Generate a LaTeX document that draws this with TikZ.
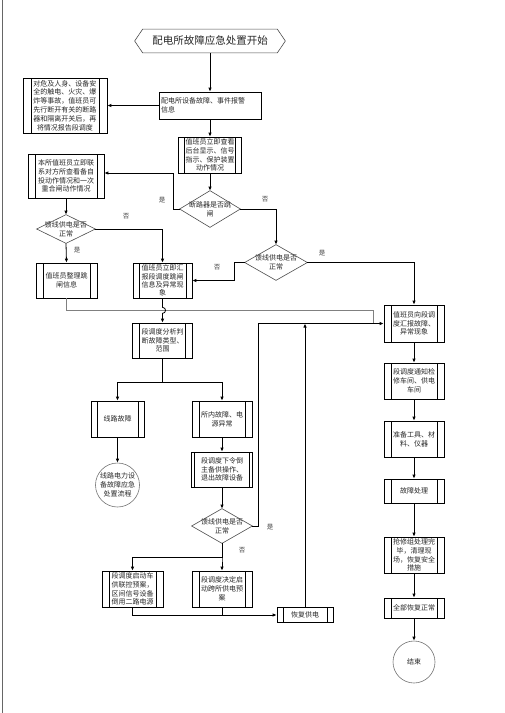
\documentclass[tikz,border=0pt]{standalone}
\usepackage{fontspec}
\newfontfamily\cjk{Noto Sans CJK SC}
\usetikzlibrary{arrows.meta,calc}
\tikzset{
  base/.style={font=\cjk\fontsize{7}{8.8}\selectfont, align=center, inner sep=0pt, line width=0.7pt, text=black!85},
  pp/.style={base, draw, rectangle,
    path picture={\draw[line width=0.7pt]
      ([xshift=#1]path picture bounding box.north west) -- ([xshift=#1]path picture bounding box.south west)
      ([xshift=-#1]path picture bounding box.north east) -- ([xshift=-#1]path picture bounding box.south east);}},
  pp/.default=7pt,
  plainbox/.style={base, draw, rectangle},
  diabox/.style={base, rectangle, draw=none},
  circ/.style={base, draw=black!55, line width=0.6pt, circle},
  conn/.style={line width=0.8pt, -{Latex[length=4pt,width=3.5pt]}},
  line/.style={line width=0.8pt},
  lbl/.style={font=\cjk\fontsize{6.5}{7}\selectfont, text=black!75, inner sep=0pt}
}
\begin{document}
\begin{tikzpicture}[x=1pt,y=-1pt]
\useasboundingbox (0,0) rectangle (504,713);
\draw[line width=0.5pt, black!60] (2.5,0) -- (2.5,713);

% title
\node[base, font=\cjk\fontsize{10.5}{12}\selectfont, minimum width=150pt, minimum height=23pt] (title) at (210,41) {配电所故障应急处置开始};
\draw[line width=0.6pt, black!70] ([xshift=8pt]title.north west) -- ([xshift=-8pt]title.north east) -- (title.east) -- ([xshift=-8pt]title.south east) -- ([xshift=8pt]title.south west) -- (title.west) -- cycle;

% nodes
\node[plainbox, minimum width=102pt, minimum height=27pt, text width=98pt, align=left] (b1) at (210,105.5) {配电所设备故障、事件报警\\信息};
\node[pp=8pt, minimum width=84pt, minimum height=55pt] (a1) at (65,105.5) {对危及人身、设备安\\全的触电、火灾、爆\\炸等事故，值班员可\\先行断开有关的断路\\器和隔离开关后，再\\将情况报告段调度};
\node[pp=6pt, minimum width=63pt, minimum height=36pt] (b2) at (210,155) {值班员立即查看\\后台显示、信号\\指示、保护装置\\动作情况};
\node[pp=7pt, minimum width=76pt, minimum height=44pt] (b3) at (66,176) {本所值班员立即联\\系对方所查看备自\\投动作情况和一次\\重合闸动作情况};
\node[diabox, minimum width=60pt, minimum height=36pt] (d1) at (210,209) {断路器是否跳\\闸};
\node[diabox, minimum width=58pt, minimum height=28pt] (d2) at (66,229) {馈线供电是否\\正常};
\node[diabox, minimum width=62pt, minimum height=35pt] (d3) at (276,262.5) {馈线供电是否\\正常};
\node[pp=7pt, minimum width=61pt, minimum height=35pt] (b4) at (66.5,280.5) {值班员整理跳\\闸信息};
\node[pp=6pt, minimum width=59pt, minimum height=35pt, font=\cjk\fontsize{7}{8.4}\selectfont] (b5) at (162.5,280.5) {值班员立即汇\\报段调度跳闸\\信息及异常现\\象};
\node[pp=7pt, minimum width=60pt, minimum height=35pt] (b6) at (162.5,340.5) {段调度分析判\\断故障类型、\\范围};
\node[pp=6pt, minimum width=53pt, minimum height=36pt] (b7) at (117.5,419) {线路故障};
\node[pp=7pt, minimum width=60pt, minimum height=36pt] (b8) at (222,419) {所内故障、电\\源异常};
\node[circ, minimum size=44pt] (c1) at (117.5,485) {线路电力设\\备故障应急\\处置流程};
\node[pp=3pt, minimum width=61pt, minimum height=35pt] (b9) at (222,469.5) {段调度下令倒\\主备供操作、\\退出故障设备};
\node[diabox, minimum width=60pt, minimum height=34pt] (d4) at (222,526) {馈线供电是否\\正常};
\node[pp=7pt, minimum width=61pt, minimum height=36pt] (b10) at (132.5,589) {段调度启动车\\供联控预案，\\区间信号设备\\倒用二路电源};
\node[pp=7pt, minimum width=60pt, minimum height=36pt] (b11) at (222,589) {段调度决定启\\动跨所供电预\\案};
\node[pp=6pt, minimum width=56pt, minimum height=15pt] (b12) at (305,615) {恢复供电};

\node[pp=7pt, minimum width=60pt, minimum height=37pt] (r1) at (414,323.5) {值班员向段调\\度汇报故障、\\异常现象};
\node[pp=7pt, minimum width=60pt, minimum height=36pt] (r2) at (414,381) {段调度通知检\\修车间、供电\\车间};
\node[pp=7pt, minimum width=60pt, minimum height=36pt] (r3) at (414,439) {准备工具、材\\料、仪器};
\node[pp=7pt, minimum width=60pt, minimum height=24pt] (r4) at (414,491) {故障处理};
\node[pp=7pt, minimum width=60pt, minimum height=36pt] (r5) at (414,555) {抢修组处理完\\毕，清理现\\场，恢复安全\\措施};
\node[pp=7pt, minimum width=60pt, minimum height=20pt] (r6) at (414,608) {全部恢复正常};
\node[circ, minimum size=42pt] (e) at (414,662) {结束};

% diamonds outlines
\foreach \d in {d1,d2,d3,d4}{
  \draw[line width=0.6pt, black!70] (\d.north) -- (\d.east) -- (\d.south) -- (\d.west) -- cycle;
}

% helper coordinates
\coordinate (y173) at (0,173);
\coordinate (j1) at (173,173);
\coordinate (g1) at (373,310);

% connectors
\draw[conn] (title.south) -- (b1.north);
\draw[conn] (b1.west) -- (a1.east);
\draw[conn] (b1.south) -- (b2.north);
\draw[conn] (b2.south) -- (d1.north);
\draw[conn] (d1.west) -- (d1.west -| j1) -- (j1) -- (b3.east |- y173);
\draw[conn] (d1.east) -| (d3.north);
\draw[conn] (b3.south) -- (d2.north);
\draw[conn] (d2.south) -- (b4.north);
\draw[conn] (d2.east) -| (b5.north);
\draw[conn] (d3.west) -- ++(-10,0) |- (b5.east);
\draw[conn] (d3.east) -| (r1.north);
\draw[line width=0.8pt, black!50] (b4.south) |- (g1) -- (g1 |- r1.west);
\draw[conn] (b5.south) -- ++(0,9) .. controls ++(4,0) and ++(4,0) .. ++(0,6) -- (b6.north);
\draw[conn] (b6.south) -- ++(0,24) -| (b7.north);
\draw[conn] (b6.south) -- ++(0,24) -| (b8.north);
\draw[conn] (b7.south) -- (c1.north);
\draw[conn] (b8.south) -- (b9.north);
\draw[conn] (b9.south) -- (d4.north);
\draw[conn] (d4.east) -- ++(6,0) |- (r1.west);
\draw[conn] (d4.south) -- ++(0,14) -| (b10.north);
\draw[conn] (d4.south) -- ++(0,14) -| (b11.north);
\draw[conn] (b10.south) |- (b12.west);
\draw[line] (b11.south) -- (b11.south |- b12.west);
\draw[conn] (b12.north) -- (b12.north |- r1.west);
\draw[conn] (r1.south) -- (r2.north);
\draw[conn] (r2.south) -- (r3.north);
\draw[conn] (r3.south) -- (r4.north);
\draw[conn] (r4.south) -- (r5.north);
\draw[conn] (r5.south) -- (r6.north);
\draw[conn] (r6.south) -- (e.north);

% labels
\node[lbl] (l1) at (162,200) {是};
\node[lbl] (l2) at (265,199) {否};
\node[lbl] (l3) at (126,216) {否};
\node[lbl] (l4) at (77,250) {是};
\node[lbl] (l5) at (217,267) {否};
\node[lbl] (l6) at (322,253) {是};
\node[lbl] (l7) at (270,527) {是};
\node[lbl] (l8) at (242,550) {否};
\end{tikzpicture}
\end{document}
